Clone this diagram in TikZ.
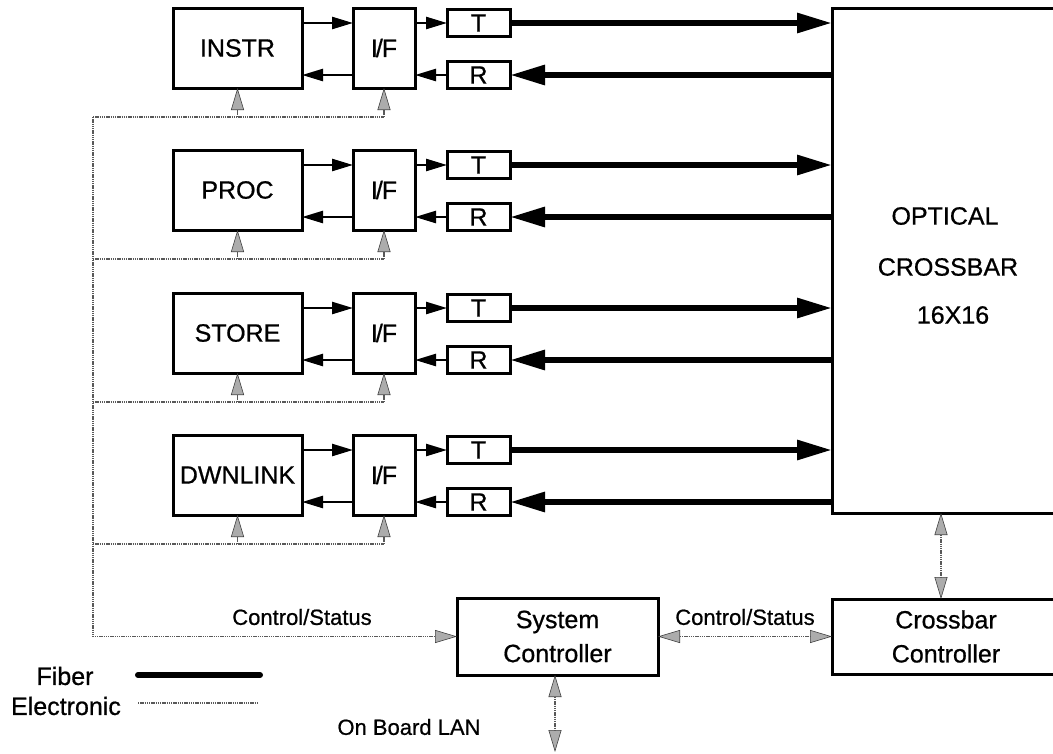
\documentclass[tikz,border=0pt]{standalone}
\usepackage{fontspec}
\setmainfont{Liberation Sans}[FakeBold=0.7]
\usetikzlibrary{arrows.meta,calc}
\begin{document}
\begin{tikzpicture}[x=1pt,y=-1pt,
  box/.style={draw,line width=3pt,inner sep=0pt,outer sep=0pt,font=\fontsize{25}{30}\selectfont},
  txt/.style={inner sep=0pt,font=\fontsize{25}{30}\selectfont},
  lbl/.style={inner sep=0pt,font=\fontsize{22}{26}\selectfont},
  sarrow/.style={line width=2.5pt,-{Triangle[length=21pt,width=12pt]}},
  fiber/.style={line width=6pt,-{Triangle[length=35pt,width=19pt]}},
  elec/.style={draw=gray!70!black,line width=1.5pt,dash pattern=on 1.4pt off 0.8pt},
  hatch/.tip={Triangle[length=22pt,width=13pt,fill=gray!65,color=black!75,line width=0.6pt]}
]
\useasboundingbox (0,0) rectangle (1053,753);

% optical crossbar
\node[box,minimum width=248pt,minimum height=505pt,anchor=north west] (xbar) at (832,8) {};
\node[txt] (xt1) at (945,216) {OPTICAL};
\node[txt] (xt2) at (948,267) {CROSSBAR};
\node[txt] (xt3) at (953,315) {16X16};

% rows
\foreach \ty/\lab/\i in {8/INSTR/1,150/PROC/2,293/STORE/3,435/DWNLINK/4}{
  \node[box,minimum width=129pt,minimum height=80pt,anchor=north west] (m\i) at (173,\ty) {\lab};
  \node[box,minimum width=62pt,minimum height=80pt,anchor=north west] (if\i) at (353,\ty) {I\kern-2pt/\kern-1pt F};
  \node[box,minimum width=63pt,minimum height=27pt] (t\i) at (478.5,\ty+15) {T};
  \node[box,minimum width=63pt,minimum height=27pt] (r\i) at (478.5,\ty+67) {R};
  \draw[sarrow] (m\i.east |- t\i) -- (if\i.west |- t\i);
  \draw[sarrow] (if\i.east |- t\i) -- (t\i.west);
  \draw[sarrow] (if\i.west |- r\i) -- (m\i.east |- r\i);
  \draw[sarrow] (r\i.west) -- (if\i.east |- r\i);
  \draw[fiber] (t\i.east) -- (xbar.west |- t\i);
  \draw[fiber] (xbar.west |- r\i) -- (r\i.east);
  \coordinate (bl\i) at (93,\ty+109);
  \draw[elec] (bl\i) -- (if\i.south |- bl\i);
  \draw[elec,-hatch] (m\i.south |- bl\i) -- (m\i.south);
  \draw[elec,-hatch] (if\i.south |- bl\i) -- (if\i.south);
}

% controllers
\node[box,align=center,font=\fontsize{25}{34}\selectfont,minimum width=201pt,minimum height=77pt,anchor=north west] (sys) at (457,598) {System\\Controller};
\node[box,align=center,font=\fontsize{25}{34}\selectfont,minimum width=228pt,minimum height=75pt,anchor=north west] (xctrl) at (832,599) {Crossbar\\Controller};

\draw[elec,-hatch] (bl1) |- (sys.west);
\draw[elec,hatch-hatch] (sys.east) -- (xctrl.west);
\coordinate (xc) at (941,560);
\draw[elec,hatch-hatch] (xbar.south -| xc) -- (xctrl.north -| xc);
\coordinate (lan) at (555,752);
\draw[elec,hatch-hatch] (sys.south -| lan) -- (lan);

% labels
\node[lbl] (cs1) at (302,617) {Control/Status};
\node[lbl] (cs2) at (745,617) {Control/Status};
\node[lbl] (lanlbl) at (409,727) {On Board LAN};

% legend
\node[txt] (fib) at (65,676) {Fiber};
\node[txt] (ele) at (66,706) {Electronic};
\coordinate (f1) at (138,675);
\coordinate (f2) at (260,675);
\coordinate (e1) at (138,703);
\coordinate (e2) at (257,703);
\draw[line width=6pt,line cap=round] (f1) -- (f2);
\draw[elec] (e1) -- (e2);
\end{tikzpicture}
\end{document}
